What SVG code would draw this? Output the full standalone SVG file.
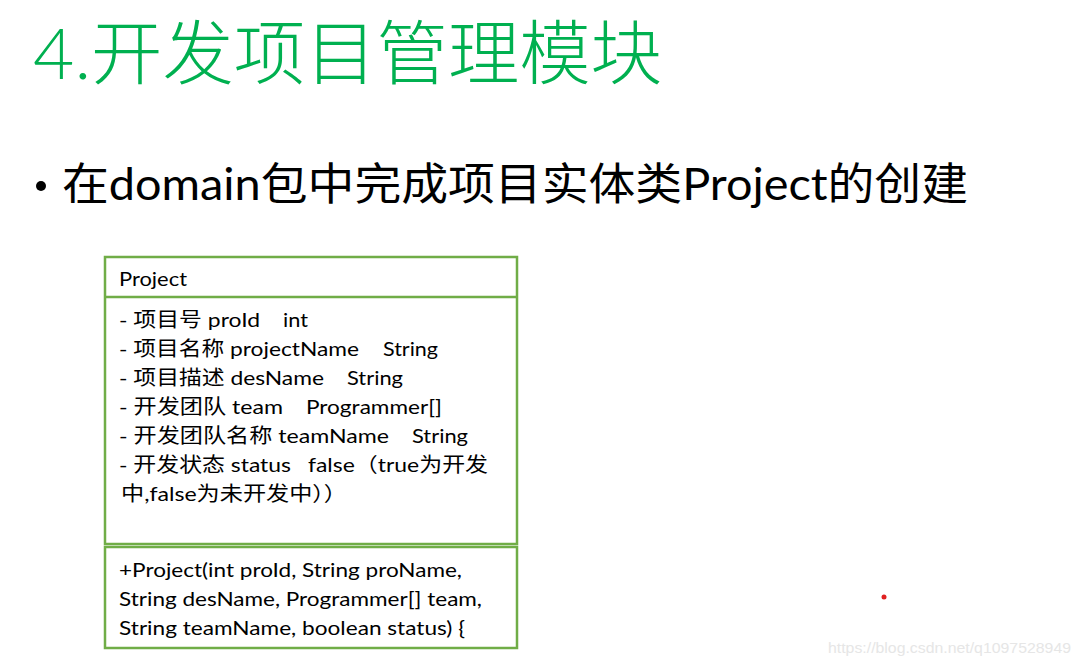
<svg xmlns="http://www.w3.org/2000/svg" width="1080" height="666" viewBox="0 0 1080 666">
<style>
.t{font-family:Lato,"Noto Sans CJK SC",sans-serif;fill:#000}
.b{font-size:20px}
.box{fill:#fff;stroke:#70AD47;stroke-width:2.5}
</style>
<rect width="1080" height="666" fill="#fff"/>
<text id="title" x="33" y="79" font-family="Lato,'Noto Sans CJK SC',sans-serif" font-weight="300" font-size="70" fill="#00B050" textLength="629" lengthAdjust="spacingAndGlyphs">4.开发项目管理模块</text>
<g id="subtitle">
<circle cx="41" cy="186" r="5"/>
<text class="t" x="62" y="200" font-size="44" textLength="906" lengthAdjust="spacingAndGlyphs">在domain包中完成项目实体类Project的创建</text>
</g>
<g id="class-project">
<rect class="box" x="105" y="257" width="412" height="287"/>
<line x1="105" y1="297" x2="517" y2="297" stroke="#70AD47" stroke-width="2.5"/>
<text class="t b" x="119" y="286" textLength="68" lengthAdjust="spacingAndGlyphs">Project</text>
<text class="t b" y="327"><tspan x="119" textLength="141" lengthAdjust="spacingAndGlyphs">- 项目号 proId</tspan><tspan x="283" textLength="25" lengthAdjust="spacingAndGlyphs">int</tspan></text>
<text class="t b" y="356"><tspan x="119" textLength="240" lengthAdjust="spacingAndGlyphs">- 项目名称 projectName</tspan><tspan x="383" textLength="55" lengthAdjust="spacingAndGlyphs">String</tspan></text>
<text class="t b" y="385"><tspan x="119" textLength="205" lengthAdjust="spacingAndGlyphs">- 项目描述 desName</tspan><tspan x="347" textLength="56" lengthAdjust="spacingAndGlyphs">String</tspan></text>
<text class="t b" y="414"><tspan x="119" textLength="164" lengthAdjust="spacingAndGlyphs">- 开发团队 team</tspan><tspan x="306" textLength="136" lengthAdjust="spacingAndGlyphs">Programmer[]</tspan></text>
<text class="t b" y="443"><tspan x="119" textLength="270" lengthAdjust="spacingAndGlyphs">- 开发团队名称 teamName</tspan><tspan x="412" textLength="56" lengthAdjust="spacingAndGlyphs">String</tspan></text>
<text class="t b" y="472"><tspan x="119" textLength="172" lengthAdjust="spacingAndGlyphs">- 开发状态 status</tspan><tspan x="308" textLength="180" lengthAdjust="spacingAndGlyphs">false（true为开发</tspan></text>
<text class="t b" x="121" y="501" textLength="226" lengthAdjust="spacingAndGlyphs">中,false为未开发中））</text>
</g>
<g id="class-constructor">
<rect class="box" x="105" y="547" width="412" height="101"/>
<text class="t b" x="119" y="577" textLength="343" lengthAdjust="spacingAndGlyphs">+Project(int proId, String proName,</text>
<text class="t b" x="119" y="606" textLength="363" lengthAdjust="spacingAndGlyphs">String desName, Programmer[] team,</text>
<text class="t b" x="119" y="635" textLength="346" lengthAdjust="spacingAndGlyphs">String teamName, boolean status) {</text>
</g>
<circle cx="884" cy="597" r="2.5" fill="#E02020"/>
<text x="828" y="653" font-family="'Liberation Sans',Arial,sans-serif" font-size="14" fill="#e6e6e6" textLength="243" lengthAdjust="spacingAndGlyphs">https://blog.csdn.net/q1097528949</text>
</svg>
